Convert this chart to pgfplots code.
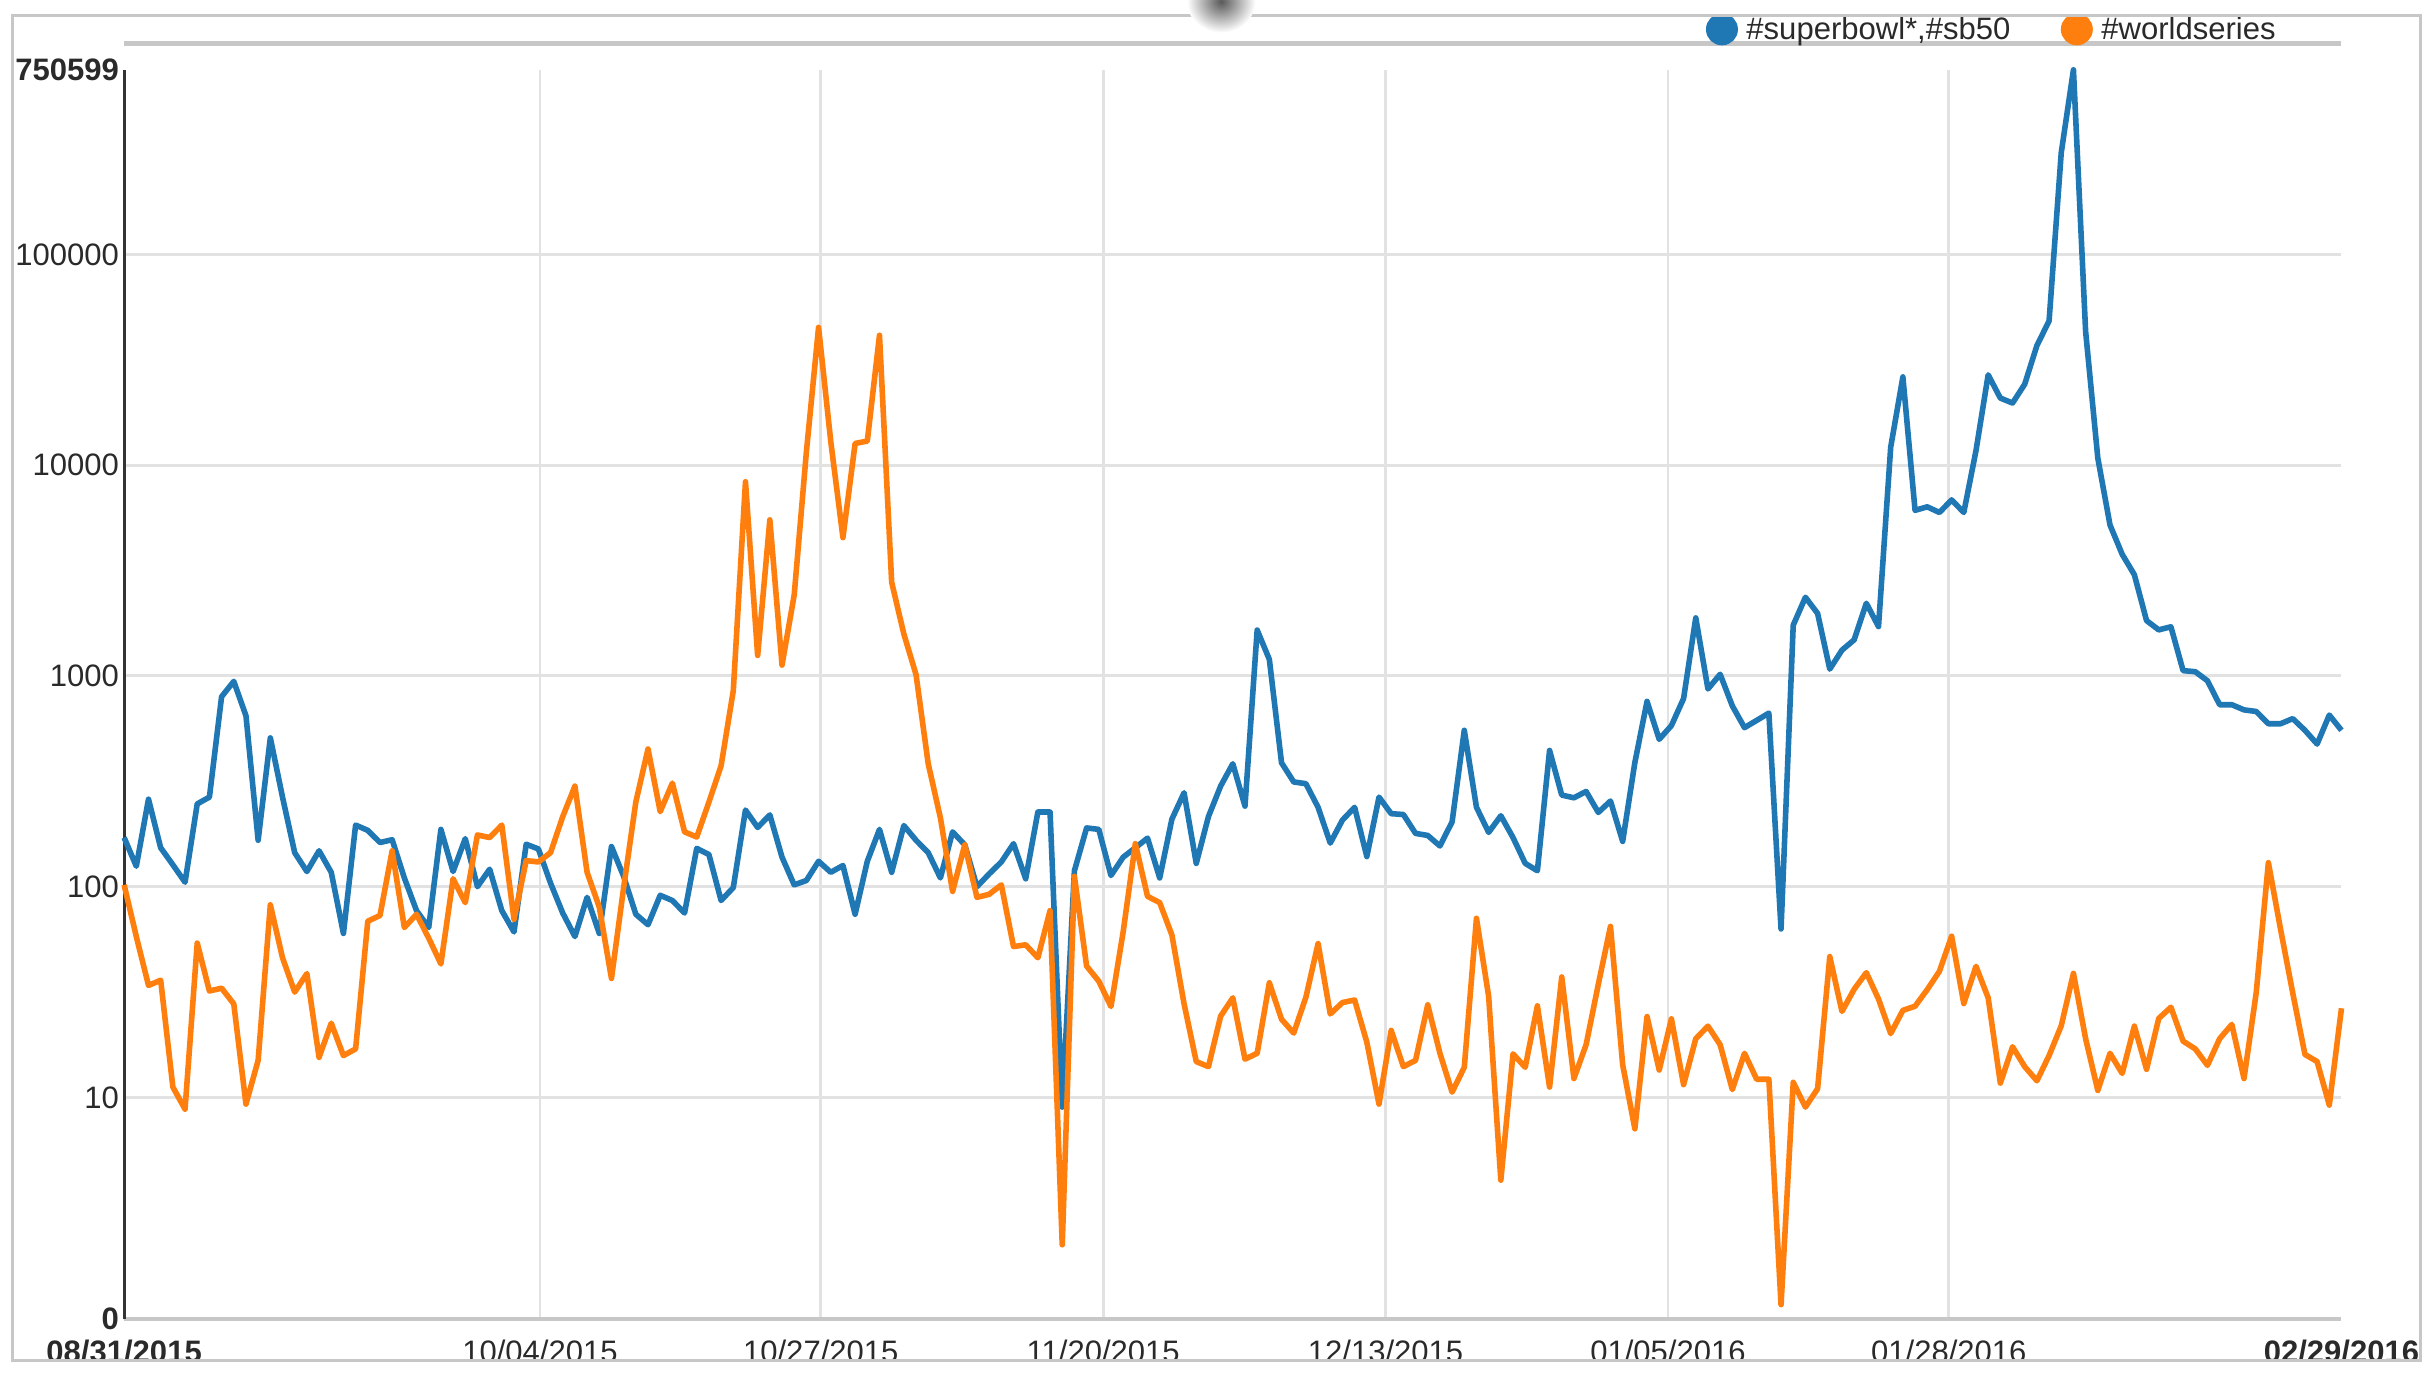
\documentclass[border=0pt]{standalone}
\usepackage{fontspec}
\setmainfont{Liberation Sans}
\usepackage{pgfplots}
\usepackage{pgfplotstable}
\pgfplotsset{compat=1.18}
\definecolor{cblue}{HTML}{1F77B4}
\definecolor{corange}{HTML}{FF7F0E}
\definecolor{gridc}{HTML}{E2E2E2}
\definecolor{txt}{HTML}{2A2A2A}

\pgfplotstableread{
d b o
0 171 102
1 125 58
2 260 34
3 153 36
4 127 11.2
5 105 8.8
6 247 54
7 266 32
8 797 33
9 942 27.8
10 647 9.3
11 166 15
12 508 82
13 266 46
14 145 31.6
15 118 38.7
16 148 15.5
17 117 22.5
18 60 15.8
19 196 17
20 185 68.6
21 162 73
22 167 148
23 110 64
24 77 74
25 64 57
26 187 43
27 118 109
28 169 84
29 100 176
30 121 171
31 77 196
32 61 70
33 159 133
34 151 131
35 104 145
36 75 215
37 58 300
38 89 117
39 60 80
40 155 36.7
41 112 99
42 74 252
43 66 450
44 91 227
45 86 310
46 75 182
47 152 172
48 142 252
49 86 375
50 99 851
51 231 8340
52 191 1250
53 219 5500
54 138 1125
55 102 2420
56 107 11560
57 132 45000
58 117 12950
59 126 4530
60 74 12670
61 132 13000
62 187 41300
63 117 2780
64 195 1580
65 166 1014
66 145 383
67 110 212
68 182 95
69 158 158
70 100 89
71 115 92
72 131 102
73 160 52
74 109 53
75 226 46
76 226 77
77 9 2.0
78 119 112
79 190 42
80 187 35.6
81 113 27
82 138 61
83 153 160
84 170 90
85 110 84
86 209 59
87 279 27.8
88 129 14.8
89 215 14
90 300 24.3
91 383 29.7
92 241 15.2
93 1650 16.2
94 1197 35
95 387 23.5
96 314 20.2
97 308 29.9
98 238 53.7
99 161 24.9
100 207 28.2
101 238 29
102 139 18.3
103 266 9.3
104 222 20.8
105 220 14
106 179 15
107 175 27.5
108 156 16.2
109 203 10.6
110 552 13.9
111 238 70.8
112 181 30.2
113 217 4.05
114 171 16.1
115 129 13.9
116 119 27.2
117 443 11.2
118 272 37.3
119 264 12.3
120 283 17.8
121 225 34.4
122 255 64.8
123 164 14.3
124 388 7.1
125 757 24.2
126 500 13.5
127 581 23.6
128 781 11.5
129 1885 19
130 867 21.8
131 1018 17.8
132 721 10.9
133 568 16.2
134 615 12.2
135 666 12.2
136 63 1.04
137 1741 11.8
138 2360 9.0
139 1979 11
140 1077 46.6
141 1325 25.6
142 1483 32.6
143 2211 39.1
144 1714 29.3
145 12160 20.1
146 26200 25.9
147 6100 27.1
148 6340 32.5
149 5960 39.7
150 6840 58.2
151 5960 27.9
152 11700 41.9
153 26800 29.7
154 20800 11.7
155 19700 17.4
156 24200 14
157 36900 12
158 48300 15.8
159 304000 21.9
160 750599 38.8
161 43000 19
162 10800 10.8
163 5200 16.2
164 3775 13
165 3020 21.8
166 1830 13.6
167 1653 23.7
168 1710 26.8
169 1059 18.5
170 1047 17
171 948 14.2
172 730 19
173 730 22.2
174 690 12.3
175 678 31.3
176 593 130
177 593 62.8
178 627 31.3
179 552 16
180 475 14.8
181 652 9.2
182 552 26.5
}\data

\begin{document}
\begin{tikzpicture}
\useasboundingbox (0,0) rectangle (784pt,442.5pt);
\fill[white] (0,0) rectangle (784pt,442.5pt);
\begin{axis}[
  at={(40pt,17.5pt)}, anchor=south west, scale only axis,
  width=714.5pt, height=402.5pt,
  ymode=log, xmin=0, xmax=182, ymin=0.89, ymax=750599,
  clip=false,
  axis line style={draw=none},
  tick pos=left,
  major tick length=0pt, minor tick length=0pt,
  yminorticks=false, xminorticks=false,
  xtick={34.13,57.18,80.36,103.54,126.72,149.77},
  xticklabels={10/04/2015,10/27/2015,11/20/2015,12/13/2015,01/05/2016,01/28/2016},
  extra x ticks={0,182},
  extra x tick labels={\textbf{08/31/2015},\textbf{02/29/2016}},
  extra x tick style={grid=none},
  ytick={10,100,1000,10000,100000},
  yticklabels={10,100,1000,10000,100000},
  extra y ticks={0.89,750599},
  extra y tick labels={\textbf{0},\textbf{750599}},
  extra y tick style={grid=none},
  xmajorgrids, ymajorgrids,
  major grid style={draw=gridc, line width=0.9pt},
  tick label style={font=\fontsize{10pt}{12pt}\selectfont, text=txt},
  yticklabel style={anchor=east, inner sep=0pt, xshift=-1.5pt},
  xticklabel style={anchor=base, inner sep=0pt, yshift=-14pt},
  legend columns=-1,
  legend style={at={(rel axis cs:0.7134,1.0324)}, anchor=west, draw=none, fill=none,
    inner sep=0pt, outer sep=0pt,
    nodes={inner sep=0pt, font=\fontsize{10pt}{12pt}\selectfont, text=txt},
    /tikz/every odd column/.append style={column sep=2.75pt},
    /tikz/every even column/.append style={column sep=16.25pt}},
  legend image code/.code={\fill[#1] (0pt,0.25pt) circle (4.25pt);},
]
\draw[black!22, line width=1.5pt] (axis cs:0,1000000) -- (axis cs:182,1000000);
\draw[black!22, line width=1.5pt] (axis cs:0,0.89) -- (axis cs:182,0.89);
\draw[black!80, line width=1pt] (axis cs:0,0.89) -- (axis cs:0,750599);
\addplot[cblue, line width=1.8pt, line join=round, mark=none] table[x=d,y=b]{\data};
\addlegendentry{\#superbowl*,\#sb50}
\addplot[corange, line width=1.8pt, line join=round, mark=none] table[x=d,y=o]{\data};
\addlegendentry{\#worldseries}
\end{axis}
\fill[white, even odd rule] (0,0) rectangle (784pt,442.5pt) (4pt,4pt) rectangle (780pt,437.5pt);
\draw[black!22, line width=0.9pt] (4pt,4pt) rectangle (780pt,437.5pt);
\shade[inner color=black!65, outer color=white] (393.5pt,442pt) ellipse (11pt and 10pt);
\end{tikzpicture}
\end{document}
